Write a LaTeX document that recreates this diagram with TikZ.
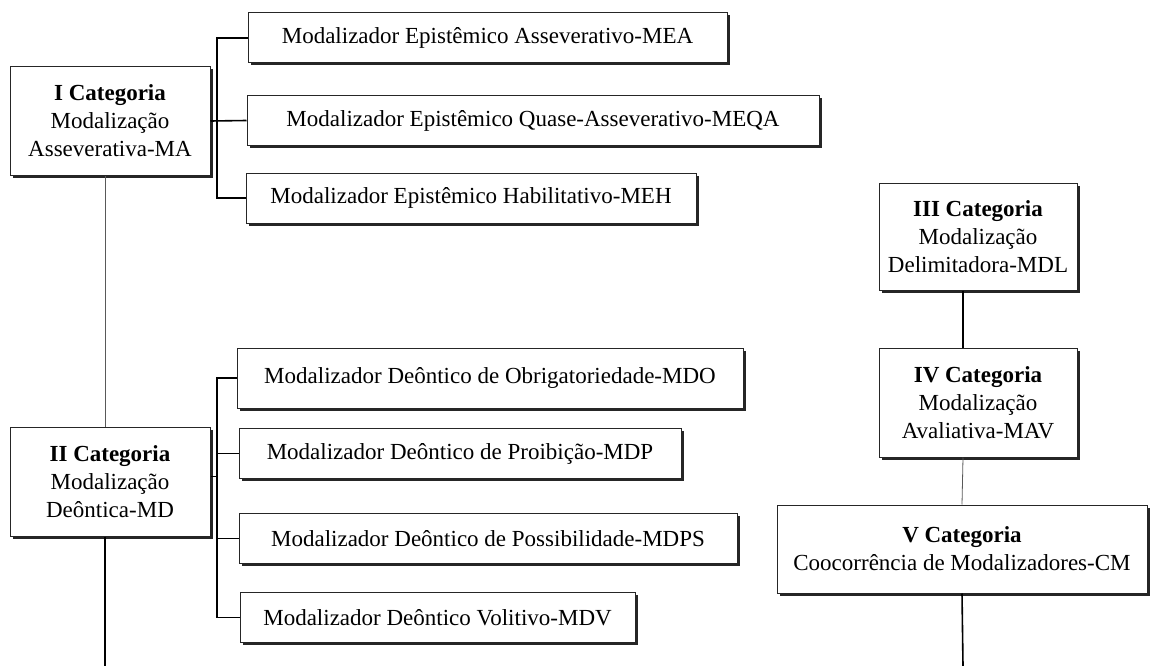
\documentclass[tikz,border=0pt]{standalone}
\usepackage{fontspec}
\setmainfont{Liberation Serif}
\usetikzlibrary{calc,
shadows,
positioning}

\begin{document}
\begin{tikzpicture} [x=1pt, y=-1pt,
    link/.style={line width = 1.6pt, black},
    thin link/.style={line width = .8pt, black!65},
    main node/.style={rectangle, fill = white, draw = black!85,
        line width = 1pt, align = center, inner sep = 2pt,
        drop shadow={shadow xshift = 2.5pt, shadow yshift = -2.5pt,
          fill = black!85, opacity = 1}},
    cat node/.style={main node, minimum width = 200pt, minimum height = 108pt},
    mod node/.style={main node, minimum height = 50pt},
    every node/.style={font=\fontsize{23}{28}\selectfont}
  ]

  \useasboundingbox (0, 0) rectangle (1151, 666);

  % first category and its modalizers
  \node [cat node] (catI) at (110, 121)
    {\textbf{I Categoria}\\Modalização\\Asseverativa-MA};

  \node [mod node, minimum width = 479pt] (mea) at (487.5, 38)
    {Modalizador Epistêmico Asseverativo-MEA};
  \node [mod node, minimum width = 572pt] (meqa) at (533, 120.5)
    {Modalizador Epistêmico Quase-Asseverativo-MEQA};
  \node [mod node, minimum width = 450pt] (meh) at (471, 198)
    {Modalizador Epistêmico Habilitativo-MEH};

  \coordinate (brI) at (217, 0);
  \draw [link] (mea.west) -- (mea.west -| brI) -- (meh.west -| brI) -- (meh.west);
  \draw [link] (catI.east) -- (meqa.west);

  % second category and its modalizers
  \node [cat node, minimum height = 109pt] (catII) at (110, 481.5)
    {\textbf{II Categoria}\\Modalização\\Deôntica-MD};

  \node [mod node, minimum width = 506pt, minimum height = 60pt] (mdo) at (490, 378)
    {Modalizador Deôntico de Obrigatoriedade-MDO};
  \node [mod node, minimum width = 442pt] (mdp) at (460, 453.5)
    {Modalizador Deôntico de Proibição-MDP};
  \node [mod node, minimum width = 498pt] (mdps) at (488, 538.5)
    {Modalizador Deôntico de Possibilidade-MDPS};
  \node [mod node, minimum width = 395pt] (mdv) at (437.5, 617.5)
    {Modalizador Deôntico Volitivo-MDV};

  \coordinate (brII) at (217, 0);
  \draw [link] (mdo.west) -- (mdo.west -| brII) -- (mdv.west -| brII) -- (mdv.west);
  \draw [link] ($(catII.east) + (0, -5)$) -- ($(catII.east -| brII) + (0, -5)$);
  \draw [link] (mdp.west) -- (mdp.west -| brII);
  \draw [link] (mdps.west) -- (mdps.west -| brII);

  \draw [thin link] ([xshift = -5pt]catI.south) -- ([xshift = -5pt]catII.north);

  \coordinate (endII) at (105, 666);
  \draw [link] ([xshift = -5pt]catII.south) -- (endII);

  % right column
  \node [cat node, minimum width = 198pt, minimum height = 107pt] (catIII) at (978, 236.5)
    {\textbf{III Categoria}\\Modalização\\Delimitadora-MDL};
  \node [cat node, minimum width = 198pt, minimum height = 109pt] (catIV) at (978, 402.5)
    {\textbf{IV Categoria}\\Modalização\\Avaliativa-MAV};
  \node [cat node, minimum width = 370pt, minimum height = 88pt] (catV) at (962, 549)
    {\textbf{V Categoria}\\Coocorrência de Modalizadores-CM};

  \draw [link] ([xshift = -15pt]catIII.south) -- ([xshift = -15pt]catIV.north);
  \draw [thin link] ([xshift = -15pt]catIV.south) -- (catV.north);

  \coordinate (endV) at (963, 666);
  \draw [link] (catV.south) -- (endV);

\end{tikzpicture}
\end{document}
